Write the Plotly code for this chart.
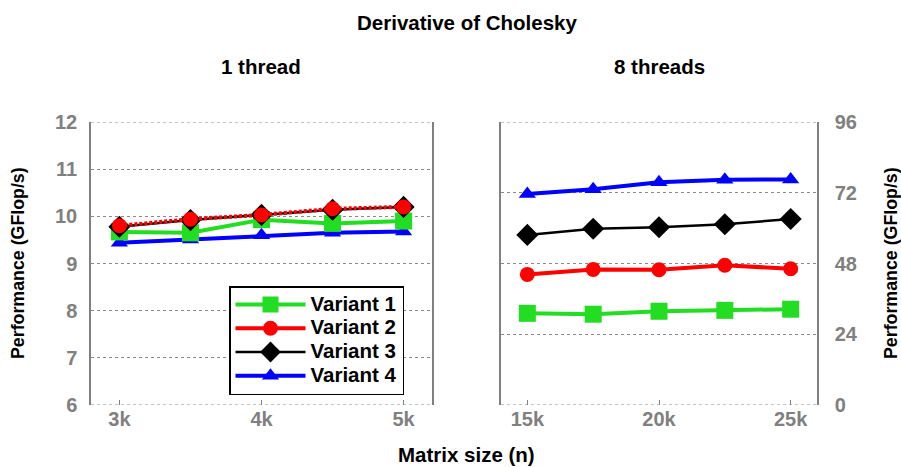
import plotly.graph_objects as go

# ---- data ----
sizes_1t = [3000, 3500, 4000, 4500, 5000]
sizes_8t = [15000, 17500, 20000, 22500, 25000]

v1_1t = [9.67, 9.65, 9.93, 9.85, 9.90]
v2_1t = [9.80, 9.94, 10.03, 10.16, 10.20]
v3_1t = [9.78, 9.92, 10.03, 10.14, 10.20]
v4_1t = [9.44, 9.51, 9.60, 9.65, 9.68]

v1_8t = [31.1, 30.8, 31.8, 32.1, 32.5]
v2_8t = [44.3, 46.0, 45.9, 47.4, 46.2]
v3_8t = [57.7, 59.8, 60.3, 61.3, 63.1]
v4_8t = [71.6, 73.2, 75.6, 76.4, 76.5]

xt_1t_vals = [3000, 4000, 5000]
xt_1t_text = ["3k", "4k", "5k"]
xt_8t_vals = [15000, 20000, 25000]
xt_8t_text = ["15k", "20k", "25k"]
yt_1t_vals = [6, 7, 8, 9, 10, 11, 12]
yt_8t_vals = [0, 24, 48, 72, 96]

names = ["Variant 1", "Variant 2", "Variant 3", "Variant 4"]
colors = ["#22dd22", "#ff0000", "#000000", "#0000ff"]
symbols = ["square", "circle", "diamond", "triangle-up"]
msizes = [17, 15, 17, 15]
lwidths = [4, 4, 2.5, 4]
dash_1t = ["solid", "3px,2px", "solid", "solid"]

W, H = 901, 467
FONT = "Liberation Sans, Arial, Helvetica, sans-serif"
GREY = "#808080"
LEG_TXT = 20.5

fig = go.Figure()

series_1t = [v1_1t, v2_1t, v3_1t, v4_1t]
series_8t = [v1_8t, v2_8t, v3_8t, v4_8t]
draw_order = [3, 0, 2, 1]  # drawing order (blue, green, black, red)
for i in draw_order:
    for panel, (xs, ys) in enumerate([(sizes_1t, series_1t[i]), (sizes_8t, series_8t[i])]):
        fig.add_trace(go.Scatter(
            x=xs, y=ys, mode="lines+markers",
            name=f"<span style='font-size:{LEG_TXT}px'>{names[i]}</span>",
            legendgroup=names[i], showlegend=(panel == 1), legendrank=i + 1,
            line=dict(color=colors[i], width=lwidths[i],
                      dash=dash_1t[i] if panel == 0 else "solid"),
            marker=dict(symbol=symbols[i], size=msizes[i], color=colors[i],
                        line=dict(width=0)),
            xaxis="x" if panel == 0 else "x2",
            yaxis="y" if panel == 0 else "y2",
        ))

def px_x(p):
    return p / W

def px_y(p):
    return 1 - p / H

tickfont = dict(family=FONT, size=20, color=GREY, weight="bold")
common_x = dict(showgrid=False, zeroline=False, showline=False, automargin=False,
                ticks="inside", ticklen=5, tickcolor=GREY, tickwidth=1,
                tickfont=tickfont)
common_y = dict(showgrid=True, gridcolor="#8a8a8a", griddash="3px,3px", gridwidth=1,
                zeroline=False, showline=True, mirror=True, linecolor=GREY, linewidth=1.5,
                ticks="", tickfont=tickfont, automargin=False)

fig.update_layout(
    width=W, height=H,
    margin=dict(l=0, r=0, t=0, b=0, autoexpand=False),
    paper_bgcolor="white", plot_bgcolor="white",
    font=dict(family=FONT),
    xaxis=dict(domain=[px_x(91), px_x(432)], range=[2800, 5200],
               tickvals=xt_1t_vals, ticktext=xt_1t_text, anchor="y", **common_x),
    xaxis2=dict(domain=[px_x(501), px_x(817)], range=[14000, 26000],
                tickvals=xt_8t_vals, ticktext=xt_8t_text, anchor="y2", **common_x),
    yaxis=dict(domain=[px_y(405), px_y(122)], range=[6, 12],
               tickvals=yt_1t_vals, anchor="x", ticklabelstandoff=8, **common_y),
    yaxis2=dict(domain=[px_y(405), px_y(122)], range=[0, 96],
                tickvals=yt_8t_vals, anchor="x2", side="right",
                ticklabelstandoff=12, **common_y),
    legend=dict(x=px_x(229), y=px_y(286), xanchor="left", yanchor="top",
                bgcolor="white", bordercolor="black", borderwidth=1.5,
                font=dict(family=FONT, size=16, color="black", weight="bold"),
                itemsizing="trace", tracegroupgap=0, itemwidth=70),
)

# dashed grid lines at the range ends (top / bottom of each panel)
for xr, yr, yv in [("x domain", "y", yt_1t_vals), ("x2 domain", "y2", yt_8t_vals)]:
    for v in (min(yv), max(yv)):
        fig.add_shape(type="line", xref=xr, yref=yr, x0=0, x1=1, y0=v, y1=v,
                      line=dict(color="#8a8a8a", width=1.2, dash="3px,3px"), layer="above")

ann = dict(showarrow=False, xref="paper", yref="paper", xanchor="center", yanchor="middle")
tfont = dict(family=FONT, size=20.5, color="black", weight="bold")
fig.add_annotation(text="Derivative of Cholesky", x=px_x(467), y=px_y(22), font=tfont, **ann)
fig.add_annotation(text="1 thread", x=px_x(261), y=px_y(67), font=tfont, **ann)
fig.add_annotation(text="8 threads", x=px_x(659), y=px_y(67), font=tfont, **ann)
fig.add_annotation(text="Matrix size (n)", x=px_x(466), y=px_y(454), font=tfont, **ann)
yfont = dict(family=FONT, size=17.8, color="black", weight="bold")
fig.add_annotation(text="Performance (GFlop/s)", x=px_x(18), y=px_y(263), textangle=-90,
                   font=yfont, **ann)
fig.add_annotation(text="Performance (GFlop/s)", x=px_x(891), y=px_y(263), textangle=-90,
                   font=yfont, **ann)

fig.write_html("out.html")
